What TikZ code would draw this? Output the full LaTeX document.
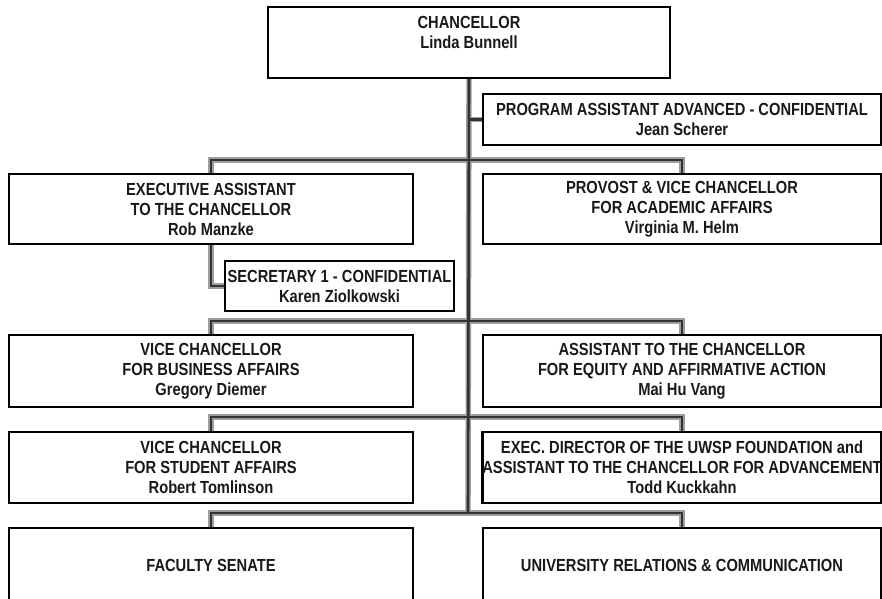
\documentclass[tikz,border=0pt]{standalone}
\usepackage{fontspec}
\setmainfont[FakeStretch=0.84]{Liberation Sans}
\usetikzlibrary{backgrounds}
\begin{document}
\begin{tikzpicture}[x=1pt,y=-1pt,
  orgbox/.style={draw=black, line width=2.4pt, fill=white, rectangle,
    inner sep=0pt, align=center, text=black!90,
    font=\fontsize{17.5}{20}\selectfont\bfseries},
  lefthalf/.style={orgbox, minimum width=404pt},
  righthalf/.style={orgbox, minimum width=398pt},
  plaintext/.style={align=center, inner sep=0pt, text=black!90,
    font=\fontsize{17.5}{20.5}\selectfont\bfseries},
  linkhalo/.style={draw=black!38, line width=5.4pt},
  link/.style={draw=black!80, line width=2.6pt}]

\useasboundingbox (0,0) rectangle (882,598);

% boxes
\node[orgbox, minimum width=402pt, minimum height=71pt] (chan) at (469,42.5) {};
\node[plaintext] (chantext) at (469,32.5) {CHANCELLOR\\Linda Bunnell};
\node[righthalf, minimum height=51pt] (pa) at (682,119.5)
  {PROGRAM ASSISTANT ADVANCED - CONFIDENTIAL\\Jean Scherer};
\node[lefthalf, minimum height=70pt] (exec) at (211,209)
  {EXECUTIVE ASSISTANT\\TO THE CHANCELLOR\\Rob Manzke};
\node[righthalf, minimum height=70pt] (prov) at (682,209)
  {PROVOST \& VICE CHANCELLOR\\FOR ACADEMIC AFFAIRS\\Virginia M. Helm};
\node[orgbox, minimum width=229pt, minimum height=50pt] (sec) at (339.5,286)
  {SECRETARY 1 - CONFIDENTIAL\\Karen Ziolkowski};
\node[lefthalf, minimum height=72pt] (bus) at (211,371)
  {VICE CHANCELLOR\\FOR BUSINESS AFFAIRS\\Gregory Diemer};
\node[righthalf, minimum height=72pt] (eq) at (682,371)
  {ASSISTANT TO THE CHANCELLOR\\FOR EQUITY AND AFFIRMATIVE ACTION\\Mai Hu Vang};
\node[lefthalf, minimum height=71pt] (stu) at (211,467.5)
  {VICE CHANCELLOR\\FOR STUDENT AFFAIRS\\Robert Tomlinson};
\node[righthalf, minimum height=71pt] (fdn) at (682,467.5)
  {EXEC. DIRECTOR OF THE UWSP FOUNDATION and\\ASSISTANT TO THE CHANCELLOR FOR ADVANCEMENT\\Todd Kuckkahn};
\node[lefthalf, minimum height=74pt] (fac) at (211,565) {FACULTY SENATE};
\node[righthalf, minimum height=74pt] (uni) at (682,565) {UNIVERSITY RELATIONS \& COMMUNICATION};

% junction points on the trunk
\coordinate (b1) at (468,160);
\coordinate (b2) at (468,321);
\coordinate (b3) at (468,417);
\coordinate (b4) at (468,513);

% page background and connectors behind the boxes: soft halo, then the dark line
\begin{scope}[on background layer]
\fill[white] (0,0) rectangle (882,598);
\foreach \sty in {linkhalo,link}{
  \draw[\sty] (chan.south) -- (b4);
  \draw[\sty] (b1 |- pa.west) -- (pa.west);
  \draw[\sty] (exec.north) -- (exec.north |- b1) -- (prov.north |- b1) -- (prov.north);
  \draw[\sty] (exec.south) |- (sec.west);
  \draw[\sty] (bus.north) -- (bus.north |- b2) -- (eq.north |- b2) -- (eq.north);
  \draw[\sty] (stu.north) -- (stu.north |- b3) -- (fdn.north |- b3) -- (fdn.north);
  \draw[\sty] (fac.north) -- (fac.north |- b4) -- (uni.north |- b4) -- (uni.north);
}
\end{scope}
\end{tikzpicture}
\end{document}
